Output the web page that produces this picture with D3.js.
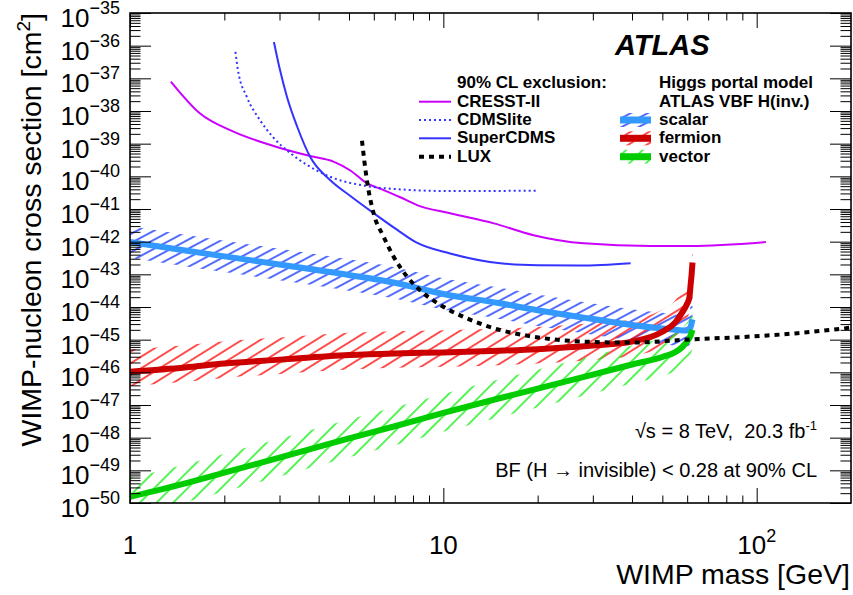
<!DOCTYPE html>
<html>
<head>
<meta charset="utf-8">
<script src="https://cdn.jsdelivr.net/npm/d3@7"></script>
<style>
  body { margin: 0; background: #fff; }
  svg { font-family: "Liberation Sans", Arial, Helvetica, sans-serif; }
</style>
</head>
<body>
<svg id="chart" width="853" height="595"></svg>
<script>
"use strict"

//------------------------------------------------//
//-------- values --------------------------------//
//------------------------------------------------//

// direct detection limits (mass in GeV, cross section in cm^2)
const cresstMass  = [1.35, 1.67, 2.14, 2.87, 3.76, 4.46, 5.05, 5.70, 6.45, 7.29, 8.24, 10.5, 14.5, 19.4, 28.1, 45.9, 61.5, 107];
const cresstSigma = [7.94e-38, 8.51e-39, 2.34e-39, 8.51e-40, 4.17e-40, 2.82e-40, 1.51e-40, 6.17e-41, 3.80e-41, 2.29e-41, 1.32e-41, 7.41e-42, 3.63e-42, 1.58e-42, 8.91e-43, 7.41e-43, 7.41e-43, 9.77e-43];

const cdmsliteMass  = [2.17, 2.21, 2.36, 2.60, 2.86, 3.25, 3.76, 4.45, 5.55, 7.29, 10.5, 20.0];
const cdmsliteSigma = [6.46e-37, 1.82e-37, 2.69e-38, 5.25e-39, 1.58e-39, 5.13e-40, 1.95e-40, 8.91e-41, 5.25e-41, 3.98e-41, 3.55e-41, 3.63e-41];

const supercdmsMass  = [2.88, 3.01, 3.17, 3.42, 3.76, 4.35, 5.05, 5.98, 7.13, 8.26, 10.5, 15.2, 20.0, 27.4, 39.6];
const supercdmsSigma = [1.29e-36, 1.82e-37, 2.69e-38, 3.24e-39, 3.89e-40, 7.76e-41, 2.51e-41, 7.59e-42, 2.29e-42, 9.12e-43, 4.37e-43, 2.19e-43, 1.91e-43, 1.86e-43, 2.19e-43];

const luxMass  = [5.50, 5.70, 5.99, 6.45, 6.94, 7.66, 8.65, 10.0, 11.9, 14.85, 19.4, 28.1, 40.0, 61.5, 93.4, 135, 200];
const luxSigma = [1.23e-39, 7.76e-41, 7.41e-42, 1.41e-42, 3.47e-43, 8.51e-44, 2.63e-44, 1.02e-44, 4.47e-45, 2.09e-45, 1.23e-45, 8.71e-46, 8.13e-46, 1.02e-45, 1.23e-45, 1.58e-45, 2.34e-45];

// ATLAS VBF H(inv.) Higgs portal limits, all on the same mass grid
const portalMass = [1, 1.5, 2, 3, 5, 7, 10, 15, 20, 30, 40, 50, 55, 58, 60, 61, 61.5, 62, 62.4];

const scalarSigma = [9.77e-43, 5.37e-43, 3.55e-43, 2.00e-43, 9.55e-44, 5.50e-44, 2.51e-44, 1.32e-44, 7.94e-45, 4.27e-45, 2.82e-45, 2.19e-45, 2.00e-45, 1.91e-45, 1.91e-45, 2.09e-45, 2.40e-45, 3.16e-45, 4.17e-45];
const scalarUp    = [2.95e-42, 1.62e-42, 1.07e-42, 6.03e-43, 2.88e-43, 1.66e-43, 7.59e-44, 3.98e-44, 2.40e-44, 1.29e-44, 8.51e-45, 6.61e-45, 6.03e-45, 5.75e-45, 5.75e-45, 7.41e-45, 1.07e-44, 1.78e-44, 2.63e-44];
const scalarDown  = [3.24e-43, 1.78e-43, 1.17e-43, 6.61e-44, 3.16e-44, 1.82e-44, 8.32e-45, 4.37e-45, 2.63e-45, 1.41e-45, 9.33e-46, 7.24e-46, 6.61e-46, 6.31e-46, 6.31e-46, 6.92e-46, 7.94e-46, 1.05e-45, 1.38e-45];

const fermionSigma = [1.05e-46, 1.41e-46, 1.86e-46, 2.45e-46, 3.39e-46, 3.80e-46, 4.07e-46, 4.57e-46, 5.13e-46, 6.61e-46, 8.71e-46, 1.74e-45, 3.39e-45, 7.08e-45, 1.26e-44, 2.00e-44, 4.47e-44, 1.00e-43, 2.29e-43];
const fermionUp    = [5.01e-46, 6.76e-46, 8.91e-46, 1.17e-45, 1.62e-45, 1.82e-45, 1.95e-45, 2.19e-45, 2.45e-45, 3.16e-45, 4.17e-45, 8.32e-45, 1.62e-44, 3.39e-44, 5.01e-44, 7.08e-44, 1.41e-43, 2.82e-43, 5.75e-43];
const fermionDown  = [3.80e-47, 5.13e-47, 6.76e-47, 8.91e-47, 1.23e-46, 1.38e-46, 1.48e-46, 1.66e-46, 1.86e-46, 2.40e-46, 3.16e-46, 6.31e-46, 1.23e-45, 2.57e-45, 4.57e-45, 7.24e-45, 1.62e-44, 3.63e-44, 8.32e-44];

const vectorSigma = [1.55e-50, 3.98e-50, 8.51e-50, 2.45e-49, 9.55e-49, 2.24e-48, 5.75e-48, 1.58e-47, 3.16e-47, 8.51e-47, 1.74e-46, 2.95e-46, 4.17e-46, 6.03e-46, 8.91e-46, 1.12e-45, 1.32e-45, 1.66e-45, 2.00e-45];
const vectorUp    = [5.89e-50, 1.51e-49, 3.24e-49, 9.33e-49, 3.63e-48, 8.51e-48, 2.19e-47, 6.03e-47, 1.20e-46, 3.24e-46, 6.61e-46, 1.12e-45, 1.58e-45, 2.29e-45, 3.39e-45, 4.27e-45, 5.01e-45, 6.31e-45, 7.59e-45];
const vectorDown  = [4.07e-51, 1.05e-50, 2.24e-50, 6.46e-50, 2.51e-49, 5.89e-49, 1.51e-48, 4.17e-48, 8.32e-48, 2.24e-47, 4.57e-47, 7.76e-47, 1.10e-46, 1.58e-46, 2.34e-46, 2.95e-46, 3.47e-46, 4.37e-46, 5.25e-46];

// axis tick labels
const yTickExps = [-35, -36, -37, -38, -39, -40, -41, -42, -43, -44, -45, -46, -47, -48, -49, -50];
const xTickValues = [1, 10, 100];
const xTickBase = ["1", "10", "10"];
const xTickSup = ["", "", "2"];

//------------------------------------------------//
//------------------ set up -----------------------//
//------------------------------------------------//

const plotLeft = 130, plotRight = 851, plotTop = 13, plotBottom = 503;

const svg = d3.select("#chart");

const x = d3.scaleLog().domain([1, 200]).range([plotLeft, plotRight]);
const y = d3.scaleLog().domain([1e-50, 1e-35]).range([plotBottom, plotTop]);

const defs = svg.append("defs");

defs.append("clipPath").attr("id", "plot_clip")
    .append("rect")
    .attr("x", plotLeft).attr("y", plotTop)
    .attr("width", plotRight - plotLeft).attr("height", plotBottom - plotTop);

//hatch patterns: horizontal line rotated to the hatch angle
function make_hatch(id, color, spacing, angle, width) {
    const p = defs.append("pattern")
        .attr("id", id)
        .attr("patternUnits", "userSpaceOnUse")
        .attr("width", 40)
        .attr("height", spacing)
        .attr("patternTransform", "rotate(" + (-angle) + ")");
    p.append("line")
        .attr("x1", 0).attr("x2", 40)
        .attr("y1", spacing / 2).attr("y2", spacing / 2)
        .attr("stroke", color)
        .attr("stroke-width", width);
}
make_hatch("hatch_scalar", "#1a3cff", 8, 28, 1.3);
make_hatch("hatch_fermion", "#ff1010", 9.8, 32, 1.3);
make_hatch("hatch_vector", "#19f019", 11.8, 45, 1.4);

const plot = svg.append("g").attr("clip-path", "url(#plot_clip)");

const line = d3.line()
    .x(d => x(d[0]))
    .y(d => y(d[1]))
    .curve(d3.curveMonotoneX);

const area = d3.area()
    .x(d => x(d[0]))
    .y0(d => y(d[1]))
    .y1(d => y(d[2]))
    .curve(d3.curveMonotoneX);

//--------------------------------------//
//------------ portal bands ------------//
//--------------------------------------//

const models = [
    { name: "scalar",  sigma: scalarSigma,  up: scalarUp,  down: scalarDown,  color: "#3399ff", hatch: "hatch_scalar" },
    { name: "fermion", sigma: fermionSigma, up: fermionUp, down: fermionDown, color: "#cc0000", hatch: "hatch_fermion" },
    { name: "vector",  sigma: vectorSigma,  up: vectorUp,  down: vectorDown,  color: "#00cc00", hatch: "hatch_vector" }
];

models.forEach(m => {
    const band = portalMass.map((mass, i) => [mass, m.down[i], m.up[i]]);
    plot.append("path")
        .attr("d", area(band))
        .attr("fill", "url(#" + m.hatch + ")")
        .attr("stroke", "none");
});

models.forEach(m => {
    const pts = portalMass.map((mass, i) => [mass, m.sigma[i]]);
    plot.append("path")
        .attr("d", line(pts))
        .attr("fill", "none")
        .attr("stroke", m.color)
        .attr("stroke-width", 6);
});

//--------------------------------------//
//------- direct detection limits ------//
//--------------------------------------//

const experiments = [
    { name: "CRESST-II", mass: cresstMass, sigma: cresstSigma, color: "#cc00ff", width: 2, dash: null },
    { name: "CDMSlite", mass: cdmsliteMass, sigma: cdmsliteSigma, color: "#3333ff", width: 2, dash: "2,3" },
    { name: "SuperCDMS", mass: supercdmsMass, sigma: supercdmsSigma, color: "#3333ff", width: 2, dash: null },
    { name: "LUX", mass: luxMass, sigma: luxSigma, color: "#000000", width: 4, dash: "5,5" }
];

experiments.forEach(e => {
    const pts = e.mass.map((m, i) => [m, e.sigma[i]]);
    plot.append("path")
        .attr("d", line(pts))
        .attr("fill", "none")
        .attr("stroke", e.color)
        .attr("stroke-width", e.width)
        .attr("stroke-dasharray", e.dash);
});

//--------------------------------------//
//---------------- axes ----------------//
//--------------------------------------//

const yMajor = yTickExps.map(e => Math.pow(10, e));
const yMinor = [];
yTickExps.slice(1).forEach(e => {
    for (let k = 2; k < 10; k++) yMinor.push(k * Math.pow(10, e));
});
const xMinor = [2, 3, 4, 5, 6, 7, 8, 9, 20, 30, 40, 50, 60, 70, 80, 90];

function style_axis(g) {
    g.select(".domain").remove();
    g.selectAll(".tick line").attr("stroke", "#000").attr("stroke-width", 1);
}

svg.append("g").attr("transform", "translate(" + plotLeft + ",0)")
    .call(d3.axisLeft(y).tickValues(yMajor).tickSize(-21).tickFormat("")).call(style_axis);
svg.append("g").attr("transform", "translate(" + plotLeft + ",0)")
    .call(d3.axisLeft(y).tickValues(yMinor).tickSize(-10.5).tickFormat("")).call(style_axis);
svg.append("g").attr("transform", "translate(" + plotRight + ",0)")
    .call(d3.axisRight(y).tickValues(yMajor).tickSize(-21).tickFormat("")).call(style_axis);
svg.append("g").attr("transform", "translate(" + plotRight + ",0)")
    .call(d3.axisRight(y).tickValues(yMinor).tickSize(-10.5).tickFormat("")).call(style_axis);

svg.append("g").attr("transform", "translate(0," + plotBottom + ")")
    .call(d3.axisBottom(x).tickValues(xTickValues).tickSize(-15).tickFormat("")).call(style_axis);
svg.append("g").attr("transform", "translate(0," + plotBottom + ")")
    .call(d3.axisBottom(x).tickValues(xMinor).tickSize(-7.5).tickFormat("")).call(style_axis);
svg.append("g").attr("transform", "translate(0," + plotTop + ")")
    .call(d3.axisTop(x).tickValues(xTickValues).tickSize(-15).tickFormat("")).call(style_axis);
svg.append("g").attr("transform", "translate(0," + plotTop + ")")
    .call(d3.axisTop(x).tickValues(xMinor).tickSize(-7.5).tickFormat("")).call(style_axis);

//frame
svg.append("rect")
    .attr("x", plotLeft).attr("y", plotTop)
    .attr("width", plotRight - plotLeft).attr("height", plotBottom - plotTop)
    .attr("fill", "none").attr("stroke", "#000").attr("stroke-width", 1.6);

//y tick labels 10^-n
yTickExps.forEach(e => {
    const t = svg.append("text")
        .attr("x", 120)
        .attr("y", y(Math.pow(10, e)) + 14)
        .attr("text-anchor", "end")
        .attr("font-size", 26);
    t.append("tspan").text("10");
    t.append("tspan").attr("dy", -13).attr("font-size", 18).text("\u2212" + (-e));
});

//x tick labels
xTickValues.forEach((v, i) => {
    const t = svg.append("text")
        .attr("x", x(v))
        .attr("y", 554)
        .attr("text-anchor", "middle")
        .attr("font-size", 26);
    t.append("tspan").text(xTickBase[i]);
    if (xTickSup[i]) t.append("tspan").attr("dy", -12).attr("font-size", 18).text(xTickSup[i]);
});

//axis titles
svg.append("text")
    .attr("x", 850).attr("y", 584)
    .attr("text-anchor", "end")
    .attr("font-size", 28.5)
    .text("WIMP mass [GeV]");

const ytitle = svg.append("text")
    .attr("transform", "translate(41,13) rotate(-90)")
    .attr("text-anchor", "end")
    .attr("font-size", 28.5);
ytitle.append("tspan").text("WIMP-nucleon cross section [cm");
ytitle.append("tspan").attr("dy", -11).attr("font-size", 19).text("2");
ytitle.append("tspan").attr("dy", 11).text("]");

//--------------------------------------//
//--------------- labels ---------------//
//--------------------------------------//

svg.append("text")
    .attr("x", 615).attr("y", 55)
    .attr("font-size", 29)
    .attr("font-weight", "bold")
    .attr("font-style", "italic")
    .text("ATLAS");

const rows = [88.3, 106.7, 125, 143.3, 161.7];

svg.append("text")
    .attr("x", 457).attr("y", rows[0])
    .attr("font-size", 17).attr("font-weight", "bold")
    .text("90% CL exclusion:");

experiments.forEach((e, i) => {
    svg.append("line")
        .attr("x1", 419).attr("x2", 451)
        .attr("y1", rows[i + 1] - 5).attr("y2", rows[i + 1] - 5)
        .attr("stroke", e.color)
        .attr("stroke-width", e.width === 4 ? 4 : 2)
        .attr("stroke-dasharray", e.dash);
    svg.append("text")
        .attr("x", 457).attr("y", rows[i + 1])
        .attr("font-size", 17).attr("font-weight", "bold")
        .text(e.name);
});

svg.append("text")
    .attr("x", 659).attr("y", rows[0])
    .attr("font-size", 17).attr("font-weight", "bold")
    .text("Higgs portal model");
svg.append("text")
    .attr("x", 659).attr("y", rows[1])
    .attr("font-size", 17).attr("font-weight", "bold")
    .text("ATLAS VBF H(inv.)");

models.forEach((m, i) => {
    const cy = rows[i + 2] - 5;
    svg.append("rect")
        .attr("x", 620).attr("y", cy - 7)
        .attr("width", 31).attr("height", 14)
        .attr("fill", "url(#" + m.hatch + ")");
    svg.append("line")
        .attr("x1", 620).attr("x2", 651)
        .attr("y1", cy).attr("y2", cy)
        .attr("stroke", m.color)
        .attr("stroke-width", 7);
    svg.append("text")
        .attr("x", 659).attr("y", rows[i + 2])
        .attr("font-size", 17).attr("font-weight", "bold")
        .text(m.name);
});

const lumi = svg.append("text")
    .attr("x", 817).attr("y", 438)
    .attr("text-anchor", "end")
    .attr("font-size", 20);
lumi.append("tspan").text("\u221As = 8 TeV,\u00a0 20.3 fb");
lumi.append("tspan").attr("dy", -8).attr("font-size", 13).text("-1");

svg.append("text")
    .attr("x", 817).attr("y", 477)
    .attr("text-anchor", "end")
    .attr("font-size", 20)
    .text("BF (H \u2192 invisible) < 0.28 at 90% CL");

</script>
</body>
</html>
